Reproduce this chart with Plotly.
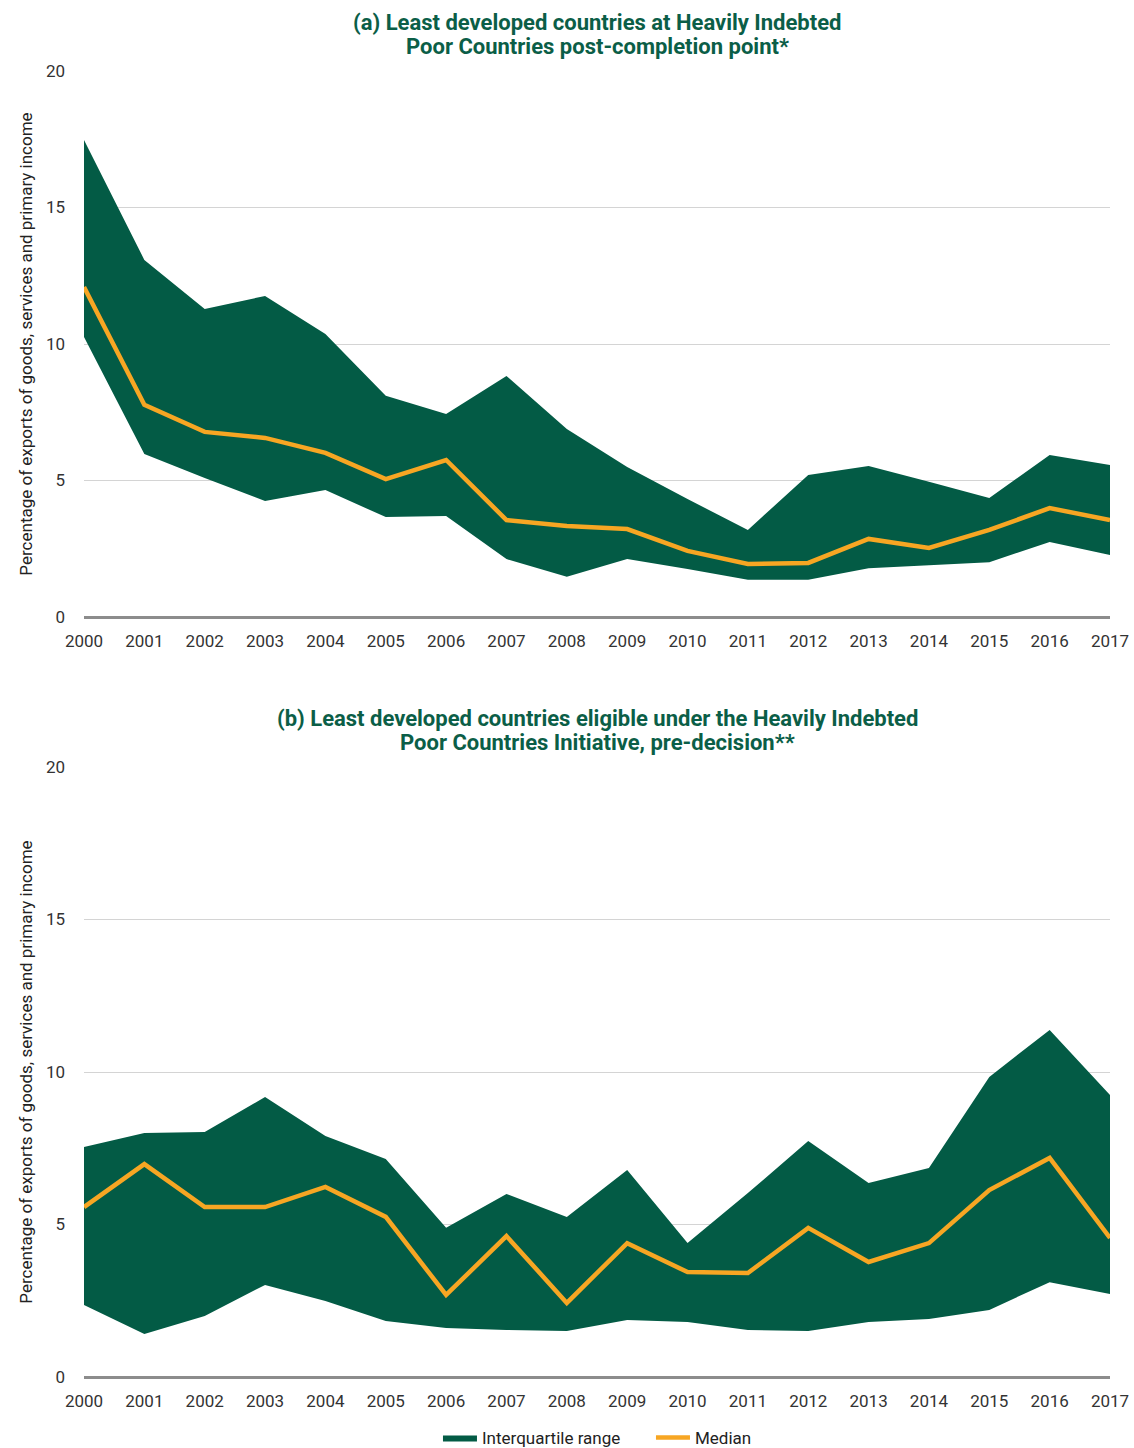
import plotly.graph_objects as go

years = list(range(2000, 2018))

# Panel (a)
a_q3 = [17.47, 13.08, 11.28, 11.76, 10.37, 8.10, 7.44, 8.83, 6.89, 5.49, 4.32, 3.19, 5.20, 5.53, 4.95, 4.36, 5.93, 5.57]
a_q1 = [10.26, 5.97, 5.09, 4.25, 4.65, 3.66, 3.70, 2.12, 1.47, 2.12, 1.76, 1.36, 1.36, 1.79, 1.90, 2.01, 2.75, 2.27]
a_med = [12.09, 7.77, 6.78, 6.56, 6.01, 5.05, 5.75, 3.55, 3.33, 3.22, 2.42, 1.94, 1.98, 2.86, 2.53, 3.19, 3.99, 3.55]

# Panel (b)
b_q3 = [7.54, 8.00, 8.03, 9.18, 7.90, 7.15, 4.89, 6.00, 5.25, 6.79, 4.39, 6.03, 7.74, 6.36, 6.85, 9.84, 11.38, 9.25]
b_q1 = [2.36, 1.41, 2.00, 3.02, 2.49, 1.84, 1.61, 1.54, 1.51, 1.87, 1.80, 1.54, 1.51, 1.80, 1.90, 2.20, 3.11, 2.72]
b_med = [5.57, 6.98, 5.57, 5.57, 6.23, 5.25, 2.69, 4.62, 2.43, 4.39, 3.44, 3.41, 4.89, 3.77, 4.39, 6.13, 7.18, 4.56]

title_a = ["(a) Least developed countries at Heavily Indebted", "Poor Countries post-completion point*"]
title_b = ["(b) Least developed countries eligible under the Heavily Indebted",
           "Poor Countries Initiative, pre-decision**"]
ytitle = "Percentage of exports of goods, services and primary income"
yticks = [0, 5, 10, 15, 20]

GREEN = "#035B45"
ORANGE = "#F7A623"
TITLE_GREEN = "#0B5E47"
FONT = "Roboto, Arial"

W, H = 1134, 1448
ML, MR, MT, MB = 84, 24, 71, 71
PH = H - MT - MB  # plot-area height in px

fig = go.Figure()
panels = [(a_q1, a_q3, a_med, "x", "y"), (b_q1, b_q3, b_med, "x2", "y2")]
for i, (q1, q3, med, xa, ya) in enumerate(panels):
    fig.add_trace(go.Scatter(x=years, y=q1, mode="lines", line=dict(width=0, color=GREEN),
                             showlegend=False, hoverinfo="skip", xaxis=xa, yaxis=ya))
    fig.add_trace(go.Scatter(x=years, y=q3, mode="lines", line=dict(width=0, color=GREEN),
                             fill="tonexty", fillcolor=GREEN, name="Interquartile range",
                             showlegend=(i == 0), legendrank=1, xaxis=xa, yaxis=ya))
    fig.add_trace(go.Scatter(x=years, y=med, mode="lines", line=dict(width=4.5, color=ORANGE),
                             name="Median", showlegend=(i == 0), legendrank=2, xaxis=xa, yaxis=ya))

axis_common_x = dict(range=[2000, 2017], tickmode="array", tickvals=years, ticktext=[str(y) for y in years],
                     showgrid=False, zeroline=False, showline=False, ticks="", automargin=False,
                     ticklabelstandoff=12,
                     tickfont=dict(family=FONT, size=17, color="#333"))
axis_common_y = dict(range=[0, 20], tickvals=yticks, showgrid=True, gridcolor="#d4d4d4", gridwidth=1,
                     zeroline=True, zerolinecolor="#8c8c8c", zerolinewidth=3, showline=False, ticks="",
                     automargin=False, ticklabelstandoff=18,
                     tickfont=dict(family=FONT, size=17, color="#333"),
                     title=dict(text=ytitle, font=dict(family=FONT, size=17, color="#222"), standoff=8))

fig.update_layout(
    width=W, height=H,
    paper_bgcolor="white", plot_bgcolor="white",
    margin=dict(l=ML, r=MR, t=MT, b=MB, autoexpand=False),
    xaxis=dict(axis_common_x, anchor="y"),
    yaxis=dict(axis_common_y, domain=[1 - 546 / PH, 1], anchor="x"),
    xaxis2=dict(axis_common_x, anchor="y2"),
    yaxis2=dict(axis_common_y, domain=[0, 1 - 696 / PH], anchor="x2"),
    legend=dict(orientation="h", x=0.345, xanchor="left", yref="container", y=1 - 1438 / H, yanchor="middle",
                font=dict(family=FONT, size=17, color="#222"), traceorder="normal",
                itemwidth=34, entrywidth=164),
    showlegend=True,
)


def page_to_paper(py):
    return 1 - (py - MT) / PH


for lines, ys in [(title_a, (22, 47)), (title_b, (718, 742))]:
    for txt, py in zip(lines, ys):
        fig.add_annotation(text="<b>" + txt + "</b>", xref="paper", yref="paper", x=0.5, y=page_to_paper(py),
                           xanchor="center", yanchor="middle", showarrow=False,
                           font=dict(family=FONT, size=22, color=TITLE_GREEN))

fig.write_html("out.html", config={"displayModeBar": False},
               post_script="document.body.style.margin='0';document.body.style.overflow='hidden';")
